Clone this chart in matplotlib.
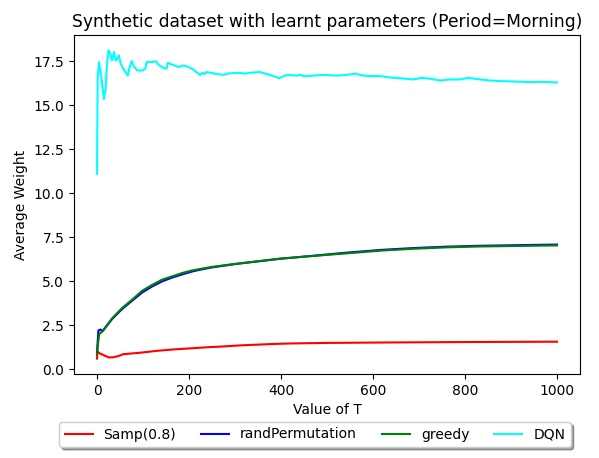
import matplotlib
matplotlib.use("Agg")
import matplotlib.pyplot as plt

# ---- data ----
samp_t = [0, 1, 6, 14, 25, 35, 46, 57, 93, 130, 166, 202, 238, 275, 311, 347, 383, 420, 500, 600, 659, 800, 900, 1000]
samp_v = [0.6, 1.0, 0.9, 0.8, 0.67, 0.67, 0.74, 0.85, 0.93, 1.04, 1.12, 1.18, 1.24, 1.29, 1.35, 1.39, 1.43, 1.46, 1.49, 1.51, 1.52, 1.54, 1.55, 1.56]

rand_t = [0, 3, 8, 12, 33, 54, 76, 98, 120, 141, 163, 185, 207, 228, 250, 300, 398, 543, 620, 688, 760, 833, 1000]
rand_v = [0.9, 2.2, 2.25, 2.15, 2.85, 3.4, 3.88, 4.35, 4.7, 4.98, 5.2, 5.38, 5.55, 5.67, 5.78, 5.97, 6.27, 6.62, 6.78, 6.88, 6.96, 7.01, 7.08]

greedy_t = [0, 2, 5, 11, 33, 54, 76, 98, 120, 141, 163, 185, 207, 228, 250, 300, 398, 543, 620, 688, 760, 833, 1000]
greedy_v = [0.85, 1.4, 2.0, 2.13, 2.89, 3.46, 3.94, 4.45, 4.79, 5.08, 5.27, 5.46, 5.61, 5.71, 5.81, 5.98, 6.28, 6.58, 6.74, 6.84, 6.92, 6.97, 7.03]

dqn_t = [0, 1.4, 4.2, 9, 15, 18.7, 21.6, 25, 29, 32.6, 36.9, 40.5, 43, 47.5, 51.6, 57, 67, 70, 75.5, 81, 88,
         99, 105, 108, 121, 128, 135, 146, 151, 154, 168, 178, 189, 196, 209, 224, 229, 234, 238, 260, 275,
         286, 307, 322, 333, 354, 376, 396, 412, 434, 441, 452, 470, 492, 521, 543, 561, 579, 593, 615, 637,
         659, 688, 706, 724, 746, 767, 789, 807, 833, 854, 883, 912, 941, 970, 1000]
dqn_v = [11.1, 16.5, 17.45, 16.68, 15.35, 15.92, 17.25, 18.11, 17.92, 17.54, 18.02, 17.54, 17.6, 17.83, 17.35, 17.07,
         16.68, 17.07, 17.5, 17.17, 16.97, 16.97, 17.07, 17.45, 17.45, 17.5, 17.26, 17.1, 17.07, 17.4, 17.26, 17.17,
         17.26, 17.2, 17.03, 16.72, 16.84, 16.77, 16.88, 16.77, 16.72, 16.8, 16.84, 16.79, 16.84, 16.88, 16.72,
         16.53, 16.72, 16.68, 16.72, 16.64, 16.68, 16.72, 16.68, 16.72, 16.79, 16.68, 16.65, 16.65, 16.57,
         16.53, 16.46, 16.55, 16.5, 16.40, 16.46, 16.46, 16.55, 16.46, 16.40, 16.36, 16.34, 16.31, 16.32, 16.29]

labels = ["Samp(0.8)", "randPermutation", "greedy", "DQN"]
colors = ["red", "blue", "green", "cyan"]

fig = plt.figure(figsize=(5.99, 4.58), dpi=100)
ax = fig.add_axes([74 / 599, 1 - 374 / 458, (580 - 74) / 599, (374 - 35) / 458])

ax.plot(samp_t, samp_v, color=colors[0], label=labels[0])
ax.plot(rand_t, rand_v, color=colors[1], label=labels[1])
ax.plot(greedy_t, greedy_v, color=colors[2], label=labels[2])
ax.plot(dqn_t, dqn_v, color=colors[3], label=labels[3])

ax.set_title("Synthetic dataset with learnt parameters (Period=Morning)", fontsize=12.3)
ax.set_xlabel("Value of T")
ax.set_ylabel("Average Weight")
ax.set_yticks([0.0, 2.5, 5.0, 7.5, 10.0, 12.5, 15.0, 17.5])
ax.set_xticks([0, 200, 400, 600, 800, 1000])

ax.legend(loc="upper center", bbox_to_anchor=(315 / 599, 1 - 415 / 458),
          bbox_transform=fig.transFigure, ncol=4, shadow=True, fancybox=True,
          columnspacing=1.8)

fig.savefig("out.png", dpi=100)
